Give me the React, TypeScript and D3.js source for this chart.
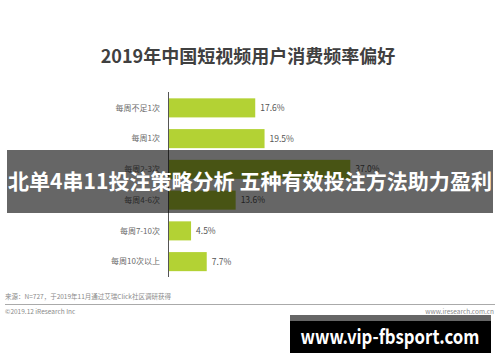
import React from "react";
import * as d3 from "d3";

const categories = ["每周不足1次", "每周1次", "每周2-3次", "每周4-6次", "每周7-10次", "每周10次以上"];
const values = [17.6, 19.5, 37.0, 13.6, 4.5, 7.7];
const title = "2019年中国短视频用户消费频率偏好";
const overlayText = "北单4串11投注策略分析 五种有效投注方法助力盈利";
const sourceText = "来源：N=727，于2019年11月通过艾瑞Click社区调研获得";
const copyText = "©2019.12 iResearch Inc";
const siteText = "www.iresearch.com.cn";
const badgeText = "www.vip-fbsport.com";

export default function App() {
  const W = 500, H = 362;
  const x0 = 169;
  const x = d3.scaleLinear().domain([0, 10]).range([x0, x0 + 49]);
  const y = d3.scaleBand().domain(categories).range([92.5, 277]).paddingInner(0.38).paddingOuter(0.19);
  const font = "'Noto Sans CJK SC', 'Noto Sans', sans-serif";
  return (
    <svg width={W} height={H} style={{ position: "absolute", left: 0, top: 0, background: "#fff" }} fontFamily={font}>
      <rect x={0} y={0} width={W} height={H} fill="#fff" />
      <text x={248} y={63} textAnchor="middle" fontSize={18} fontWeight="bold" fill="#404040">{title}</text>
      {categories.map((c, i) => (
        <g key={c}>
          <rect x={x0} y={y(c)} width={x(values[i]) - x0} height={y.bandwidth()} fill="#b3d234" />
          <text x={160} y={(y(c) as number) + y.bandwidth() / 2} dy="0.35em" textAnchor="end" fontSize={8} fill="#6a6a6a">{c}</text>
          <text x={x(values[i]) + 5} y={(y(c) as number) + y.bandwidth() / 2} dy="0.35em" fontSize={8.5} fill="#555">{values[i].toFixed(1)}%</text>
        </g>
      ))}
      <line x1={168.5} x2={168.5} y1={92} y2={277} stroke="#555" strokeWidth={1} />
      <text x={5} y={299} fontSize={6.5} fill="#8a8a8a">{sourceText}</text>
      <line x1={5} x2={495} y1={304.5} y2={304.5} stroke="#aaa" strokeWidth={1} />
      <text x={5} y={314} fontSize={6.5} fill="#8a8a8a">{copyText}</text>
      <text x={494} y={314} textAnchor="end" fontSize={6.5} fill="#8a8a8a">{siteText}</text>
      <rect x={7} y={150} width={486} height={63} fill="#000" opacity={0.6} />
      <text x={250} y={182} dy="0.35em" textAnchor="middle" fontSize={21} fontWeight="bold" fill="#fff" textLength={484} lengthAdjust="spacingAndGlyphs">{overlayText}</text>
      <rect x={290} y={315} width={201} height={6} fill="#666" />
      <rect x={290} y={321} width={201} height={32} fill="#000" />
      <text x={390} y={337} dy="0.35em" textAnchor="middle" fontSize={20} fontWeight="bold" fill="#fff" textLength={179} lengthAdjust="spacingAndGlyphs">{badgeText}</text>
    </svg>
  );
}
